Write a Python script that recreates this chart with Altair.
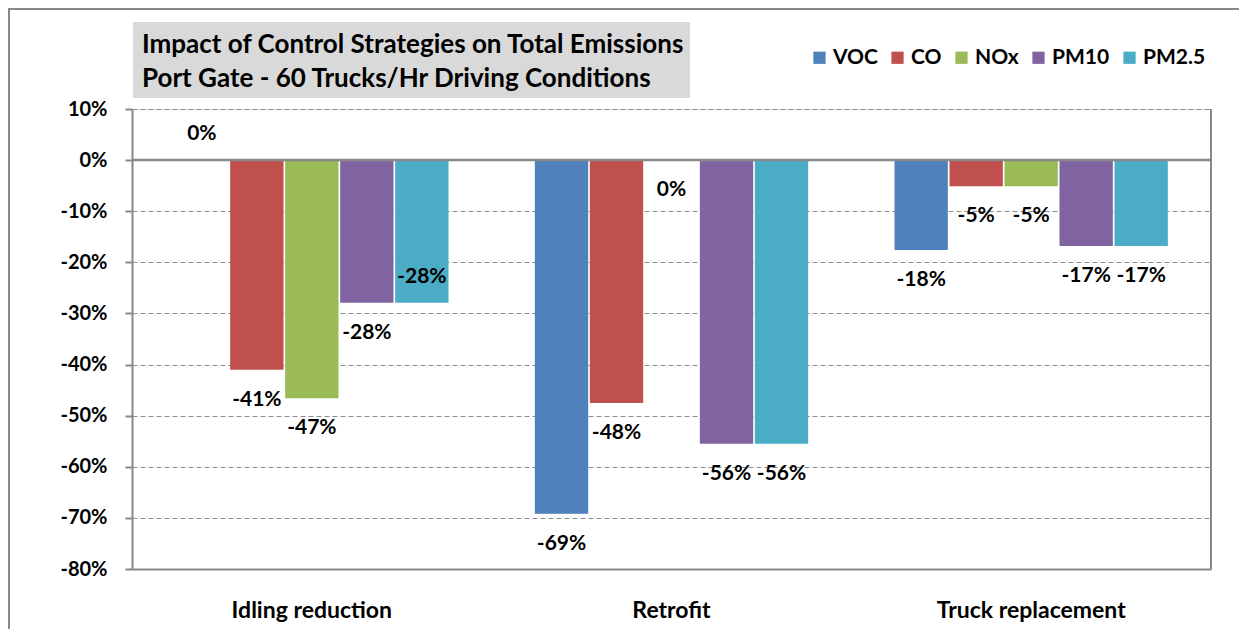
import altair as alt
import pandas as pd

categories = ["Idling reduction", "Retrofit", "Truck replacement"]
pollutants = ["VOC", "CO", "NOx", "PM10", "PM2.5"]
colors = ["#4F81BD", "#C0504D", "#9BBB59", "#8064A2", "#4BACC6"]

idling = [0.0, -0.41, -0.466, -0.279, -0.279]
retrofit = [-0.692, -0.475, 0.0, -0.555, -0.555]
truck = [-0.176, -0.051, -0.051, -0.168, -0.168]

title_lines = ["Impact of Control Strategies on Total Emissions",
               "Port Gate - 60  Trucks/Hr Driving Conditions"]

# labels drawn above the bar end instead of below
labels_above = {("Idling reduction", "VOC"), ("Idling reduction", "PM2.5")}

rows = []
for cat, vals in zip(categories, [idling, retrofit, truck]):
    for p, v in zip(pollutants, vals):
        rows.append({"category": cat, "pollutant": p, "value": v,
                     "above": (cat, p) in labels_above})
df = pd.DataFrame(rows)

W, H = 1079, 460
FONT = "Lato"
MINUS_FIX = "replace(datum.label, '\u2212', '-')"

x_enc = alt.X("category:N", sort=categories,
              scale=alt.Scale(paddingInner=0.24, paddingOuter=0.12),
              axis=alt.Axis(title=None, labelAngle=0, ticks=False, labelPadding=30,
                            labelFontSize=23, labelFontWeight="bold", labelColor="black",
                            labelFont=FONT, labelLimit=0, domainColor="#888888", domainWidth=2,
                            grid=False))
xo_enc = alt.XOffset("pollutant:N", sort=pollutants, scale=alt.Scale(paddingInner=0.03))
y_scale = alt.Scale(domain=[-0.8, 0.1], nice=False)
y_enc = alt.Y("value:Q", scale=y_scale,
              axis=alt.Axis(title=None, format=".0%", labelExpr=MINUS_FIX,
                            values=[0.1, 0, -0.1, -0.2, -0.3, -0.4, -0.5, -0.6, -0.7, -0.8],
                            labelFontSize=20, labelFontWeight="bold", labelColor="black",
                            labelFont=FONT, labelPadding=18, tickSize=7, tickColor="#888888",
                            tickWidth=2, domainColor="#888888", domainWidth=2,
                            grid=True, gridColor="#8c8c8c", gridDash=[5, 3], gridWidth=1))

base = alt.Chart(df).transform_calculate(
    label="replace(format(datum.value, '.0%'), '\u2212', '-')")

bars = base.mark_bar().encode(
    x=x_enc, xOffset=xo_enc, y=y_enc, y2=alt.datum(0),
    color=alt.Color("pollutant:N", sort=pollutants,
                    scale=alt.Scale(domain=pollutants, range=colors),
                    legend=alt.Legend(title=None, orient="none", direction="horizontal",
                                      legendX=677, legendY=-62, symbolType="square",
                                      symbolSize=150, symbolStrokeWidth=0,
                                      labelFontSize=21, labelFontWeight="bold",
                                      labelFont=FONT, labelColor="black",
                                      columnPadding=9, labelOffset=3, padding=0)),
)

one = pd.DataFrame({"v": [0]})

zero = alt.Chart(one).mark_rule(color="#888888", strokeWidth=2.5).encode(
    y=alt.Y("v:Q", scale=y_scale))

right_edge = alt.Chart(one).mark_rule(color="#888888", strokeWidth=2).encode(
    x=alt.value(W), y=alt.value(0), y2=alt.value(H))

def labels(flag, dy):
    return base.transform_filter(flag).mark_text(
        fontSize=21, fontWeight="bold", font=FONT, color="black", baseline="middle", dy=dy
    ).encode(x=alt.X("category:N", sort=categories),
             xOffset=alt.XOffset("pollutant:N", sort=pollutants),
             y=alt.Y("value:Q", scale=y_scale), text="label:N")

lab_below = labels("!datum.above", 30)
lab_above = labels("datum.above", -26)

frame = alt.Chart(one).mark_rect(
    fill=None, stroke="#888888", strokeWidth=2, clip=False).encode(
    x=alt.value(-123), x2=alt.value(W + 60), y=alt.value(-100), y2=alt.value(H + 80))

title_box = alt.Chart(one).mark_rect(fill="#d9d9d9", clip=False).encode(
    x=alt.value(1), x2=alt.value(558), y=alt.value(-87), y2=alt.value(-11))

def title_line(text, ybase):
    return alt.Chart(one).mark_text(
        text=text, fontSize=26, fontWeight="bold", font=FONT, color="black",
        align="left", baseline="alphabetic").encode(x=alt.value(10), y=alt.value(ybase))

t1 = title_line(title_lines[0], -56)
t2 = title_line(title_lines[1], -22)

chart = alt.layer(frame, title_box, t1, t2, bars, zero, right_edge, lab_below, lab_above).properties(
    width=W, height=H,
    autosize=alt.AutoSizeParams(type="none"),
    padding={"left": 124, "top": 101, "right": 28, "bottom": 60},
).configure_view(stroke=None).configure(background="white")

chart.save("out.html", embed_options={"renderer": "svg", "actions": False})
